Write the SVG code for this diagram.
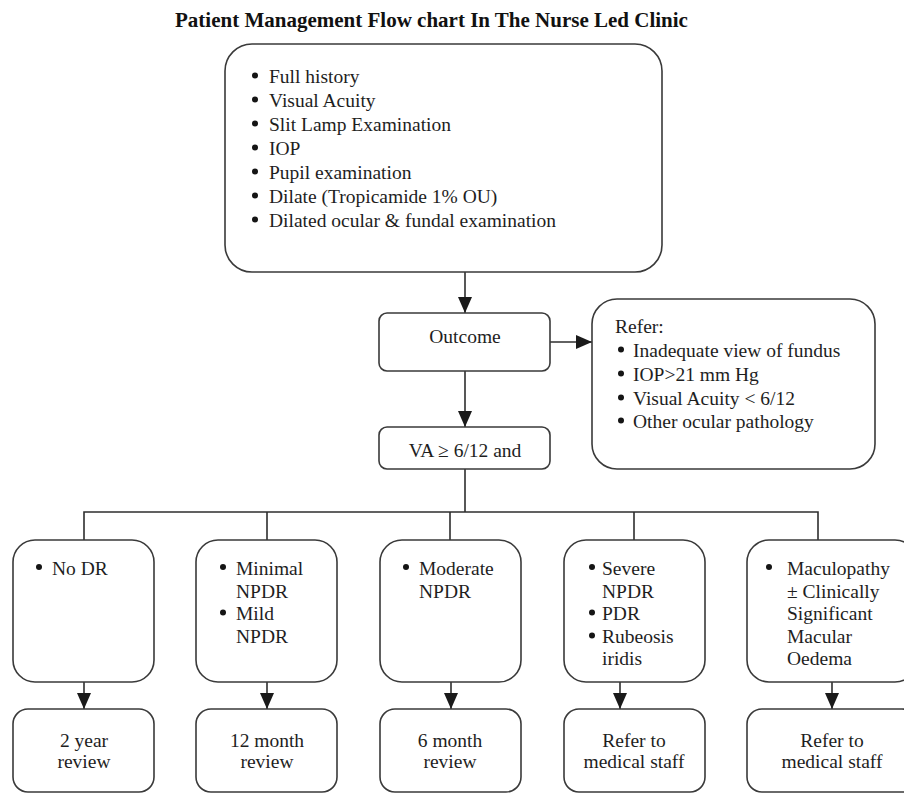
<svg xmlns="http://www.w3.org/2000/svg" width="904" height="793" viewBox="0 0 904 793">
<style>
.box{fill:#fff;stroke:#3a3a3a;stroke-width:1.6}
.ln{fill:none;stroke:#2e2e2e;stroke-width:1.6}
.dot{fill:#151515}
text{font-family:"Liberation Serif","Times New Roman",serif;font-size:19.5px;fill:#1e1e1e}
.t{font-weight:bold;font-size:21px;fill:#111}
.c{text-anchor:middle}
</style>
<defs>
<marker id="ah" viewBox="0 0 16 14" refX="16" refY="7" markerWidth="16" markerHeight="14" markerUnits="userSpaceOnUse" orient="auto">
<path d="M0,0 L16,7 L0,14 Z" fill="#1a1a1a"/>
</marker>
</defs>
<rect width="904" height="793" fill="#fff"/>
<text class="t" x="431.5" y="26.5" text-anchor="middle">Patient Management Flow chart In The Nurse Led Clinic</text>

<g id="connectors">
<line class="ln" x1="465" y1="272" x2="465" y2="313" marker-end="url(#ah)"/>
<line class="ln" x1="550" y1="342" x2="592" y2="342" marker-end="url(#ah)"/>
<line class="ln" x1="465" y1="371" x2="465" y2="427" marker-end="url(#ah)"/>
<path class="ln" d="M465,469 V512 M84,540 V512 H818 V540 M267,512 V540 M450,512 V540 M634,512 V540"/>
<line class="ln" x1="84" y1="682" x2="84" y2="709" marker-end="url(#ah)"/>
<line class="ln" x1="267" y1="682" x2="267" y2="709" marker-end="url(#ah)"/>
<line class="ln" x1="451" y1="682" x2="451" y2="709" marker-end="url(#ah)"/>
<line class="ln" x1="620" y1="682" x2="620" y2="709" marker-end="url(#ah)"/>
<line class="ln" x1="832" y1="682" x2="832" y2="709" marker-end="url(#ah)"/>
</g>

<g id="assessment">
<rect class="box" x="225" y="44" width="437" height="228" rx="27"/>
<circle class="dot" cx="255" cy="75.5" r="3"/><text x="269" y="83">Full history</text>
<circle class="dot" cx="255" cy="99.5" r="3"/><text x="269" y="107">Visual Acuity</text>
<circle class="dot" cx="255" cy="123.5" r="3"/><text x="269" y="131">Slit Lamp Examination</text>
<circle class="dot" cx="255" cy="147.5" r="3"/><text x="269" y="155">IOP</text>
<circle class="dot" cx="255" cy="171.5" r="3"/><text x="269" y="179">Pupil examination</text>
<circle class="dot" cx="255" cy="195.5" r="3"/><text x="269" y="203">Dilate (Tropicamide 1% OU)</text>
<circle class="dot" cx="255" cy="219.5" r="3"/><text x="269" y="227">Dilated ocular &amp; fundal examination</text>
</g>

<g id="outcome">
<rect class="box" x="379" y="313" width="171" height="58" rx="8"/>
<text class="c" x="465" y="343">Outcome</text>
</g>

<g id="refer">
<rect class="box" x="592" y="299" width="283" height="170" rx="25"/>
<text x="615" y="333">Refer:</text>
<circle class="dot" cx="621" cy="349.5" r="3"/><text x="633" y="357">Inadequate view of fundus</text>
<circle class="dot" cx="621" cy="373.5" r="3"/><text x="633" y="381">IOP&gt;21 mm Hg</text>
<circle class="dot" cx="621" cy="397.5" r="3"/><text x="633" y="405">Visual Acuity &lt; 6/12</text>
<circle class="dot" cx="621" cy="420.5" r="3"/><text x="633" y="428">Other ocular pathology</text>
</g>

<g id="va">
<rect class="box" x="379" y="427" width="171" height="42" rx="8"/>
<text class="c" x="465" y="457">VA ≥ 6/12 and</text>
</g>

<g id="nodr">
<rect class="box" x="13" y="540" width="141" height="142" rx="22"/>
<circle class="dot" cx="39" cy="567" r="3"/><text x="52" y="575">No DR</text>
</g>
<g id="mild">
<rect class="box" x="196" y="540" width="141" height="142" rx="22"/>
<circle class="dot" cx="223" cy="567" r="3"/><text x="236" y="575">Minimal</text>
<text x="236" y="597.5">NPDR</text>
<circle class="dot" cx="223" cy="612.5" r="3"/><text x="236" y="620">Mild</text>
<text x="236" y="643">NPDR</text>
</g>
<g id="moderate">
<rect class="box" x="380" y="540" width="141" height="142" rx="22"/>
<circle class="dot" cx="406" cy="567" r="3"/><text x="419" y="575">Moderate</text>
<text x="419" y="597.5">NPDR</text>
</g>
<g id="severe">
<rect class="box" x="564" y="540" width="141" height="142" rx="22"/>
<circle class="dot" cx="592" cy="567" r="3"/><text x="602" y="575">Severe</text>
<text x="602" y="597.5">NPDR</text>
<circle class="dot" cx="592" cy="612.5" r="3"/><text x="602" y="620">PDR</text>
<circle class="dot" cx="592" cy="635.5" r="3"/><text x="602" y="643">Rubeosis</text>
<text x="602" y="665">iridis</text>
</g>
<g id="maculopathy">
<rect class="box" x="747" y="540" width="170" height="142" rx="22"/>
<circle class="dot" cx="769" cy="567" r="3"/><text x="787" y="575">Maculopathy</text>
<text x="787" y="597.5">± Clinically</text>
<text x="787" y="620">Significant</text>
<text x="787" y="643">Macular</text>
<text x="787" y="665">Oedema</text>
</g>

<g id="r2year">
<rect class="box" x="13" y="709" width="141" height="83" rx="15"/>
<text class="c" x="84" y="747">2 year</text><text class="c" x="84" y="768">review</text>
</g>
<g id="r12month">
<rect class="box" x="196" y="709" width="141" height="83" rx="15"/>
<text class="c" x="267" y="747">12 month</text><text class="c" x="267" y="768">review</text>
</g>
<g id="r6month">
<rect class="box" x="380" y="709" width="141" height="83" rx="15"/>
<text class="c" x="450" y="747">6 month</text><text class="c" x="450" y="768">review</text>
</g>
<g id="refer4">
<rect class="box" x="564" y="709" width="141" height="83" rx="15"/>
<text class="c" x="634" y="747">Refer to</text><text class="c" x="634" y="768">medical staff</text>
</g>
<g id="refer5">
<rect class="box" x="747" y="709" width="170" height="83" rx="15"/>
<text class="c" x="832" y="747">Refer to</text><text class="c" x="832" y="768">medical staff</text>
</g>
</svg>
